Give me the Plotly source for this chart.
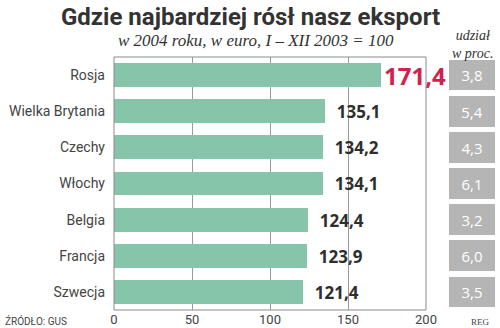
import plotly.graph_objects as go

countries = ["Rosja", "Wielka Brytania", "Czechy", "Włochy", "Belgia", "Francja", "Szwecja"]
index_vals = [171.4, 135.1, 134.2, 134.1, 124.4, 123.9, 121.4]
share_vals = [3.8, 5.4, 4.3, 6.1, 3.2, 6.0, 3.5]
x_ticks = [0, 50, 100, 150, 200]

W, H = 500, 328
ML, MR, MT, MB = 114, 5, 57, 18
PW, PH = W - ML - MR, H - MT - MB

def px(x):
    return (x - ML) / PW

def py(y):
    return (H - MB - y) / PH

fmt = lambda v: f"{v:.1f}".replace(".", ",")

val_colors = ["#d4204f"] + ["#2e2e2e"] * (len(countries) - 1)
val_sizes = [24] + [17] * (len(countries) - 1)
val_text = [fmt(v) if i == 0 else "  " + fmt(v) for i, v in enumerate(index_vals)]

fig = go.Figure()
fig.add_trace(go.Bar(
    y=countries, x=index_vals, orientation="h",
    marker=dict(color="#87c5aa", line=dict(width=0)),
    width=0.66,
    text=val_text,
    textposition="outside",
    textfont=dict(color=val_colors, size=val_sizes, family="Open Sans", weight="bold"),
    cliponaxis=False, constraintext="none",
    xaxis="x", yaxis="y", hoverinfo="skip",
))
fig.add_trace(go.Bar(
    y=countries, x=[1] * len(countries), orientation="h",
    marker=dict(color="#b5b5b5", line=dict(width=0)),
    width=0.85,
    text=[fmt(v) for v in share_vals],
    textposition="inside", insidetextanchor="middle", textangle=0,
    textfont=dict(color="white", size=15, family="Open Sans"),
    constraintext="none",
    xaxis="x2", yaxis="y", hoverinfo="skip",
))

dom1 = [0, (426 - ML) / PW]
dom2 = [(449 - ML) / PW, 1]

fig.update_layout(
    width=W, height=H, margin=dict(l=ML, r=MR, t=MT, b=MB, autoexpand=False),
    paper_bgcolor="white", plot_bgcolor="white",
    showlegend=False, bargap=0,
    xaxis=dict(domain=dom1, range=[0, 200], tickvals=x_ticks,
               ticktext=[str(t) for t in x_ticks], automargin=False,
               showgrid=True, gridcolor="#9a9a9a", gridwidth=1,
               zeroline=False, showline=False, ticks="",
               tickfont=dict(family="Roboto", size=13, color="#444444")),
    xaxis2=dict(domain=dom2, range=[0, 1], visible=False, anchor="y", automargin=False),
    yaxis=dict(categoryorder="array", categoryarray=countries[::-1],
               range=[-0.5, len(countries) - 0.5], automargin=False,
               showgrid=False, zeroline=False, showline=False, ticks="",
               ticklabelstandoff=8,
               tickfont=dict(family="Roboto", size=14, color="#444444")),
    font=dict(family="Roboto"),
)

fig.add_shape(type="rect", xref="x domain", yref="y domain", x0=0, x1=1, y0=0, y1=1,
              line=dict(color="#8a8a8a", width=1), fillcolor="rgba(0,0,0,0)", layer="above")

ann = [
    dict(text="Gdzie najbardziej rósł nasz eksport", x=px(250), y=py(17),
         font=dict(family="Roboto", size=24, color="#333333", weight="bold")),
    dict(text="w 2004 roku, w euro, I – XII 2003 = 100", x=px(256), y=py(41),
         font=dict(family="Liberation Serif", size=17, color="#333333", style="italic")),
    dict(text="udział<br>w proc.", x=px(472), y=py(44),
         font=dict(family="Liberation Serif", size=14, color="#333333", style="italic")),
    dict(text="ŹRÓDŁO: GUS", x=px(36), y=py(321),
         font=dict(family="Roboto", size=10, color="#444444")),
    dict(text="REG", x=px(480), y=py(322),
         font=dict(family="Liberation Serif", size=9, color="#444444")),
]
for a in ann:
    fig.add_annotation(xref="paper", yref="paper", showarrow=False,
                       xanchor="center", yanchor="middle", **a)

fig.write_html("out.html")
